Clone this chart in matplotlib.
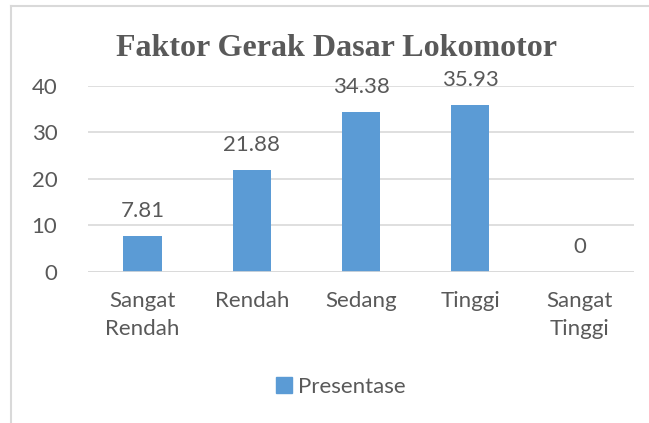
import matplotlib
matplotlib.use('Agg')
import matplotlib.pyplot as plt
from matplotlib.lines import Line2D
from matplotlib.patches import Patch

categories = ['Sangat\nRendah', 'Rendah', 'Sedang', 'Tinggi', 'Sangat\nTinggi']
values = [7.81, 21.88, 34.38, 35.93, 0]
labels = ['7.81', '21.88', '34.38', '35.93', '0']
yticks = [0, 10, 20, 30, 40]

bar_color = '#5B9BD5'
text_color = '#595959'
grid_color = '#D9D9D9'

plt.rcParams['font.family'] = ['Lato', 'DejaVu Sans']

fig = plt.figure(figsize=(6.49, 4.23), dpi=100)
ax = fig.add_axes([88 / 649, 1 - 272 / 423, 546 / 649, (272 - 85.7) / 423])

x = range(len(categories))
ax.bar(x, values, width=0.35, color=bar_color, zorder=3)
for xi, v, lab in zip(x, values, labels):
    ax.annotate(lab, (xi, v), xytext=(0, 18), textcoords='offset points',
                ha='center', va='center', fontsize=16, color=text_color)

ax.set_xlim(-0.5, len(categories) - 0.5)
ax.set_ylim(0, 40)
ax.set_yticks(yticks)
ax.set_xticks(list(x))
ax.set_xticklabels(categories, fontsize=16, color=text_color, linespacing=1.45)
ax.tick_params(axis='y', labelsize=16, labelcolor=text_color, length=0, pad=22)
ax.tick_params(axis='x', length=0, pad=14)
ax.yaxis.grid(True, color=grid_color, linewidth=1.2, zorder=0)
for s in ax.spines.values():
    s.set_visible(False)
ax.axhline(0, color=grid_color, linewidth=1.2, zorder=4)

fig.text(337 / 649, 1 - 48 / 423, 'Faktor Gerak Dasar Lokomotor',
         family='Liberation Serif', fontweight='bold', fontsize=23,
         color=text_color, ha='center', va='center')

fig.legend(handles=[Patch(color=bar_color, label='Presentase')],
           loc='center', bbox_to_anchor=(341 / 649, 1 - 387 / 423),
           frameon=False, fontsize=16, handlelength=0.7, handleheight=0.7,
           handletextpad=0.3, labelcolor=text_color)

fig.add_artist(Line2D([11 / 649, 1], [1 - 6 / 423, 1 - 6 / 423], color=grid_color, linewidth=1.5))
fig.add_artist(Line2D([11 / 649, 11 / 649], [0, 1 - 6 / 423], color=grid_color, linewidth=1.5))

fig.savefig('out.png', dpi=100)
